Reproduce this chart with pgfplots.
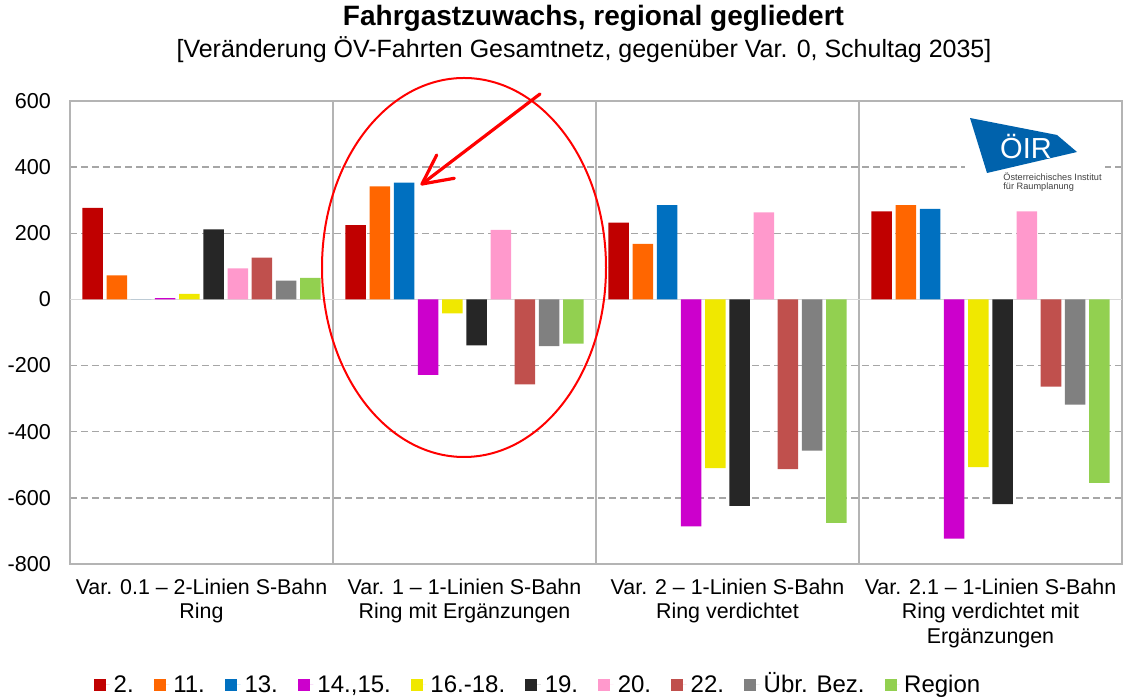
\documentclass[border=0pt]{standalone}
\usepackage{fontspec}
\setmainfont{Liberation Sans}
\usepackage{pgfplots}
\pgfplotsset{compat=1.18}
\definecolor{cA}{HTML}{C00000}
\definecolor{cB}{HTML}{FF6600}
\definecolor{cC}{HTML}{0070C0}
\definecolor{cD}{HTML}{CC00CC}
\definecolor{cE}{HTML}{F0E800}
\definecolor{cF}{HTML}{262626}
\definecolor{cG}{HTML}{FF99CC}
\definecolor{cH}{HTML}{C0504D}
\definecolor{cI}{HTML}{808080}
\definecolor{cJ}{HTML}{92D050}
\definecolor{frame}{HTML}{B4B4B4}
\definecolor{gridc}{HTML}{A6A6A6}
\definecolor{logo}{HTML}{0062AC}
\begin{document}
\begin{tikzpicture}
\begin{axis}[
  scale only axis, width=526pt, height=231.5pt,
  xmin=0, xmax=4, ymin=-800, ymax=600,
  ybar, bar width=0.078,
  ytick={-800,-600,-400,-200,200,400,600},
  extra y ticks={0},
  extra y tick style={grid=major, major grid style={solid, draw=black!15, line width=0.7pt}},
  ymajorgrids,
  major grid style={draw=gridc, line width=0.7pt, dash pattern=on 3.5pt off 2pt},
  xtick={0.5,1.5,2.5,3.5},
  xticklabels={{Var. 0.1 – 2-Linien S-Bahn\\Ring},{Var. 1 – 1-Linien S-Bahn\\Ring mit Ergänzungen},{Var. 2 – 1-Linien S-Bahn\\Ring verdichtet},{Var. 2.1 – 1-Linien S-Bahn\\Ring verdichtet mit\\Ergänzungen}},
  minor xtick={1,2,3},
  xminorgrids,
  minor grid style={solid, draw=frame, line width=0.75pt},
  major tick length=0pt, minor tick length=0pt,
  axis line style={draw=frame, line width=0.75pt},
  /pgf/number format/assume math mode=true,
  yticklabel style={font=\fontsize{10.8}{13}\selectfont, xshift=-6pt},
  xticklabel style={font=\fontsize{10.7}{12.2}\selectfont, align=center, yshift=-4pt},
  legend style={at={(0.446,-0.261)}, anchor=center, draw=none, fill=none,
    legend columns=10, font=\fontsize{12}{14}\selectfont,
    nodes={text height=1.75ex, text depth=0.3ex},
    /tikz/every even column/.append style={column sep=8pt},
    inner sep=0pt},
  legend image code/.code={\path[#1] (0pt,-3pt) rectangle (6pt,3pt); \path (0pt,0pt) -- (7.8pt,0pt);},
  legend cell align=left,
]
\addplot[fill=cA, draw=none, bar shift=-0.414] coordinates {(0.5,277) (1.5,225) (2.5,232) (3.5,266)};
\addplot[fill=cB, draw=none, bar shift=-0.322] coordinates {(0.5,73) (1.5,342) (2.5,168) (3.5,285)};
\addplot[fill=cC, draw=none, bar shift=-0.230] coordinates {(0.5,0) (1.5,353) (2.5,285) (3.5,274)};
\addplot[fill=cD, draw=none, bar shift=-0.138] coordinates {(0.5,4) (1.5,-228) (2.5,-686) (3.5,-723)};
\addplot[fill=cE, draw=none, bar shift=-0.046] coordinates {(0.5,17) (1.5,-42) (2.5,-510) (3.5,-507)};
\addplot[fill=cF, draw=none, bar shift=0.046] coordinates {(0.5,212) (1.5,-139) (2.5,-624) (3.5,-619)};
\addplot[fill=cG, draw=none, bar shift=0.138] coordinates {(0.5,94) (1.5,210) (2.5,263) (3.5,266)};
\addplot[fill=cH, draw=none, bar shift=0.230] coordinates {(0.5,126) (1.5,-257) (2.5,-513) (3.5,-264)};
\addplot[fill=cI, draw=none, bar shift=0.322] coordinates {(0.5,57) (1.5,-141) (2.5,-457) (3.5,-318)};
\addplot[fill=cJ, draw=none, bar shift=0.414] coordinates {(0.5,65) (1.5,-134) (2.5,-676) (3.5,-555)};
\legend{2.,11.,13.,{14.,15.},16.-18.,19.,20.,22.,Übr. Bez.,Region}
\end{axis}
% titles
\node[font=\bfseries\fontsize{14}{16}\selectfont] at (261.75pt,273pt) {Fahrgastzuwachs, regional gegliedert};
\node[font=\fontsize{12.5}{14}\selectfont] at (257pt,257pt) {[Veränderung ÖV-Fahrten Gesamtnetz, gegenüber Var. 0, Schultag 2035]};
% annotation
\draw[red, line width=1pt] (197pt,148.25pt) ellipse [x radius=71pt, y radius=94.75pt];
\draw[red, line width=1.6pt, line cap=round] (235pt,235pt) -- (176pt,190pt);
\draw[red, line width=1.6pt, line cap=round, line join=round] (183.35pt,204.5pt) -- (176pt,190pt) -- (192.15pt,192.85pt);
% logo
\fill[white] (447.5pt,184.5pt) rectangle (517.5pt,227pt);
\fill[logo] (450pt,223pt) -- (493.5pt,214.5pt) -- (503.5pt,206pt) -- (458.5pt,195.5pt) -- cycle;
\node[white, font=\fontsize{14.5}{15}\selectfont, inner sep=0pt] at (478pt,208.5pt) {ÖIR};
\node[anchor=west, font=\fontsize{4.6}{5}\selectfont, inner sep=0pt, text=black!75] at (466.5pt,193.5pt) {Österreichisches Institut};
\node[anchor=west, font=\fontsize{4.6}{5}\selectfont, inner sep=0pt, text=black!75] at (466.5pt,188.5pt) {für Raumplanung};
\pgfresetboundingbox
\path[use as bounding box] (-35pt,-68pt) rectangle (527pt,282pt);
\end{tikzpicture}
\end{document}
